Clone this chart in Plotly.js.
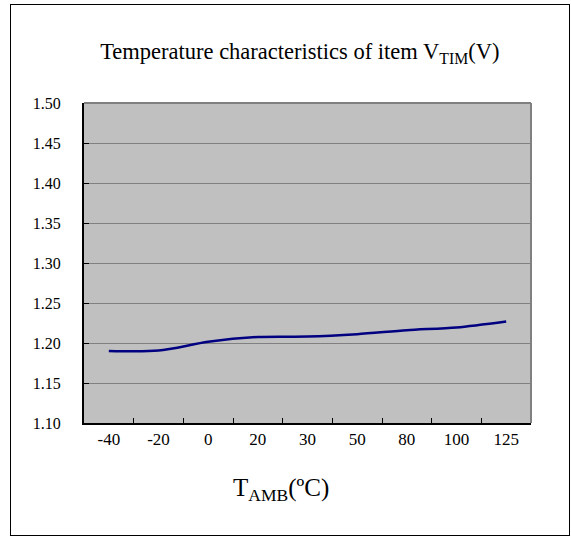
<!DOCTYPE html>
<html>
<head>
<meta charset="utf-8">
<script src="https://cdn.plot.ly/plotly-3.0.1.min.js"></script>
<style>
  html, body { margin: 0; padding: 0; background: #ffffff; }
  #wrap { position: relative; width: 571px; height: 536px; }
  #chart { position: absolute; left: 0; top: 0; width: 571px; height: 536px; }
  #frame { position: absolute; left: 10px; top: 4px; width: 558px; height: 530px;
           border: 1px solid #000; pointer-events: none; }
</style>
</head>
<body>
<div id="wrap">
  <div id="chart"></div>
  <div id="frame"></div>
</div>
<script>
// Data
const categories = ["-40", "-20", "0", "20", "30", "50", "80", "100", "125"];
const vtim = [1.190, 1.1905, 1.2015, 1.2075, 1.208, 1.211, 1.216, 1.2195, 1.227];
const yTicks = [1.10, 1.15, 1.20, 1.25, 1.30, 1.35, 1.40, 1.45, 1.50];
const yTickText = ["1.10", "1.15", "1.20", "1.25", "1.30", "1.35", "1.40", "1.45", "1.50"];

const serif = "Liberation Serif, DejaVu Serif, serif";

const trace = {
  x: categories,
  y: vtim,
  type: "scatter",
  mode: "lines",
  line: { color: "#000080", width: 2.5, shape: "spline", smoothing: 0.8 },
  hoverinfo: "x+y",
  showlegend: false
};

const layout = {
  width: 571,
  height: 536,
  margin: { l: 84, r: 40, t: 103, b: 113 },
  paper_bgcolor: "rgba(0,0,0,0)",
  plot_bgcolor: "#C0C0C0",
  font: { family: serif, color: "#000", size: 16 },
  title: {
    text: "Temperature characteristics of item V<sub>TIM</sub>(V)",
    font: { family: serif, size: 22.5, color: "#000" },
    xref: "container", x: 0.525, xanchor: "center",
    yref: "container", y: 0.905, yanchor: "middle"
  },
  xaxis: {
    type: "category",
    range: [-0.5, categories.length - 0.5],
    tickson: "boundaries",
    ticks: "inside",
    ticklen: 5,
    tickwidth: 1,
    tickcolor: "#000",
    showgrid: false,
    showline: true,
    linecolor: "#000",
    linewidth: 2,
    tickfont: { family: serif, size: 17, color: "#000" },
    fixedrange: true
  },
  yaxis: {
    range: [1.10, 1.50],
    tickvals: yTicks,
    ticktext: yTickText,
    ticks: "inside",
    ticklen: 5,
    tickcolor: "#000",
    showgrid: true,
    gridcolor: "#808080",
    gridwidth: 1,
    zeroline: false,
    showline: true,
    linecolor: "#000",
    linewidth: 2,
    ticklabelstandoff: 18,
    tickfont: { family: serif, size: 16, color: "#000" },
    fixedrange: true
  },
  shapes: [
    { type: "line", xref: "paper", yref: "paper", x0: 0, x1: 1, y0: 1, y1: 1,
      line: { color: "#808080", width: 2 } },
    { type: "line", xref: "paper", yref: "paper", x0: 1, x1: 1, y0: 0, y1: 1,
      line: { color: "#808080", width: 2 } }
  ],
  annotations: [
    {
      text: "T<sub>AMB</sub>(ºC)",
      xref: "paper", yref: "paper",
      x: 0.4407, y: -0.209,
      xanchor: "center", yanchor: "middle",
      showarrow: false,
      font: { family: serif, size: 25, color: "#000" }
    }
  ]
};

Plotly.newPlot("chart", [trace], layout, { displayModeBar: false, staticPlot: true });
</script>
</body>
</html>
